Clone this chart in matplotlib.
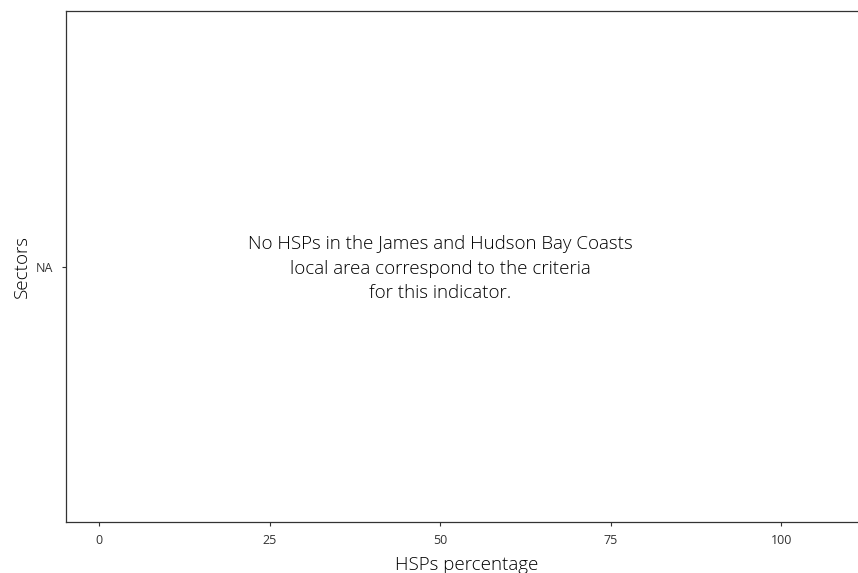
import matplotlib
matplotlib.use("Agg")
from matplotlib import pyplot as plt

plt.rcParams['font.family'] = ['Open Sans', 'DejaVu Sans']

categories = ["NA"]
x_ticks = [0, 25, 50, 75, 100]
message = ("No HSPs in the James and Hudson Bay Coasts\n"
           "local area correspond to the criteria\n"
           "for this indicator.")

fig = plt.figure(figsize=(8.58, 5.73), dpi=100)
ax = fig.add_axes([66 / 858, 1 - 522 / 573, 1 - 66 / 858 + 0.01, (522 - 11) / 573])

ax.set_xlim(-4.83, 112.5)
ax.set_ylim(-0.5, 0.5)
ax.set_xticks(x_ticks)
ax.set_xticklabels([str(t) for t in x_ticks], fontsize=9, color="#333333")
ax.set_yticks([0])
ax.set_yticklabels(categories, fontsize=9, color="#333333")
ax.tick_params(length=3, width=0.8, color="#333333", pad=6)

for side in ["left", "bottom", "top"]:
    ax.spines[side].set_linewidth(0.9)
    ax.spines[side].set_color("#333333")
ax.spines["right"].set_visible(False)

# centred note where the bars would normally be
ax.text(50, -0.004, message, ha="center", va="center", fontsize=13.5, linespacing=1.45,
        color="black", fontweight="light")

ax.set_xlabel("HSPs percentage", fontsize=13.5, labelpad=6, fontweight="light")
ax.set_ylabel("Sectors", fontsize=13.5, labelpad=4, fontweight="light")

fig.savefig("out.png", dpi=100)
